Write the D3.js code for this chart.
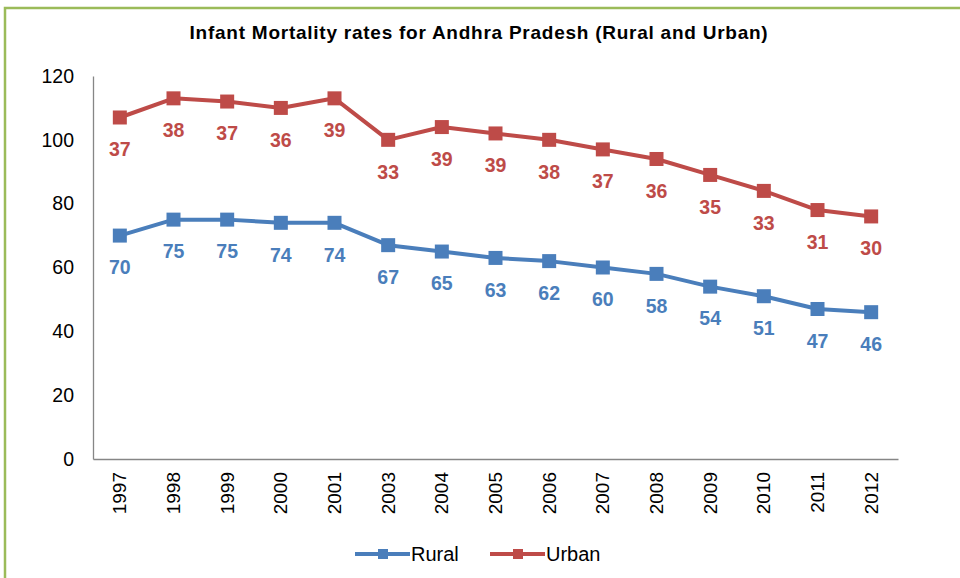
<!DOCTYPE html>
<html><head><meta charset="utf-8">
<script src="https://cdn.jsdelivr.net/npm/d3@7"></script>
<style>body{margin:0;background:#fff}svg{display:block}text{font-family:"Liberation Sans",Arial,sans-serif}</style>
</head><body><svg id="c" width="960" height="578"></svg>
<script>
const years = ["1997","1998","1999","2000","2001","2003","2004","2005","2006","2007","2008","2009","2010","2011","2012"];
const rural = [70,75,75,74,74,67,65,63,62,60,58,54,51,47,46];
const urban = [37,38,37,36,39,33,39,39,38,37,36,35,33,31,30];
const yTicks = [0,20,40,60,80,100,120];
const title = "Infant Mortality rates for Andhra Pradesh (Rural and Urban)";

const svg = d3.select("#c");
// chart border
svg.append("path").attr("d","M5,578 V8 H960").attr("fill","none").attr("stroke","#9bbb59").attr("stroke-width",2.5);

const m = {l:93, r:898, t:76, b:459};
const x = d3.scaleBand().domain(years).range([m.l, m.r]);
const y = d3.scaleLinear().domain([0,120]).range([m.b, m.t]);
const cx = d => x(d) + x.bandwidth()/2;

svg.append("text").attr("x",479).attr("y",39).attr("text-anchor","middle")
  .attr("font-size",19).attr("font-weight","bold").attr("letter-spacing",0.75)
  .attr("fill","#000").text(title);

// y axis
const ya = svg.append("g").attr("transform",`translate(${m.l},0)`)
  .call(d3.axisLeft(y).tickValues(yTicks).tickSize(0).tickPadding(19));
ya.select(".domain").attr("stroke","#868686").attr("stroke-width",1.3);
ya.selectAll("text").attr("font-size",19.5).attr("fill","#000");
// x axis
const xa = svg.append("g").attr("transform",`translate(0,${m.b})`)
  .call(d3.axisBottom(x).tickSize(0).tickSizeOuter(0));
xa.select(".domain").attr("stroke","#868686").attr("stroke-width",1.3);
xa.selectAll("text").attr("font-size",19).attr("fill","#000")
  .attr("transform","rotate(-90)").attr("text-anchor","end")
  .attr("x",-13).attr("y",0).attr("dy","0.35em");

const stacked = rural.map((r,i)=>r+urban[i]);
const series = [
  {name:"Rural", color:"#4a7ebb", vals:rural, labels:rural},
  {name:"Urban", color:"#be4b48", vals:stacked, labels:urban}
];
const line = d3.line().x((d,i)=>cx(years[i])).y(d=>y(d));
series.forEach(s=>{
  svg.append("path").datum(s.vals).attr("d",line).attr("fill","none")
    .attr("stroke",s.color).attr("stroke-width",4).attr("stroke-linejoin","round");
  svg.selectAll(null).data(s.vals).enter().append("rect")
    .attr("x",(d,i)=>cx(years[i])-7).attr("y",d=>y(d)-7)
    .attr("width",14).attr("height",14).attr("fill",s.color);
  svg.selectAll(null).data(s.vals).enter().append("text")
    .attr("x",(d,i)=>cx(years[i])).attr("y",d=>y(d)+32).attr("dy","0.35em")
    .attr("text-anchor","middle").attr("font-size",19.5).attr("font-weight","bold")
    .attr("fill",s.color).text((d,i)=>s.labels[i]);
});

// legend
const lg = [{x:355},{x:490}];
series.forEach((s,i)=>{
  const lx = lg[i].x, ly = 554;
  svg.append("line").attr("x1",lx).attr("x2",lx+55).attr("y1",ly).attr("y2",ly)
    .attr("stroke",s.color).attr("stroke-width",4);
  svg.append("rect").attr("x",lx+23).attr("y",ly-5).attr("width",10).attr("height",10).attr("fill",s.color);
  svg.append("text").attr("x",lx+56).attr("y",ly).attr("dy","0.35em").attr("font-size",20)
    .attr("fill","#000").text(s.name);
});
</script></body></html>
